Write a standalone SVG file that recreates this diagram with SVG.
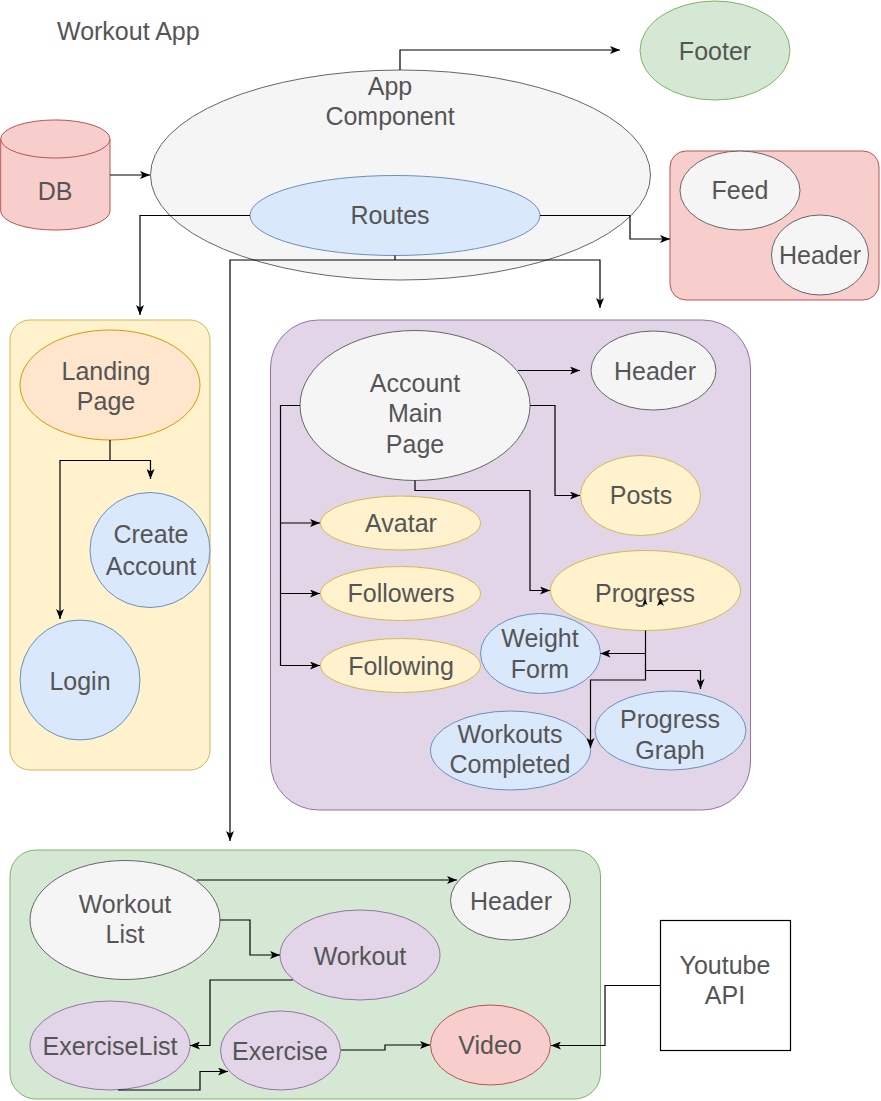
<svg xmlns="http://www.w3.org/2000/svg" width="881" height="1101" viewBox="0 0 881 1101">
<style>
text{font-family:"Liberation Sans",Arial,Helvetica,sans-serif;font-size:25px;fill:#555;text-anchor:middle}
.gray{fill:#f5f5f5;stroke:#666;stroke-width:1}
.blue{fill:#dae8fc;stroke:#6c8ebf;stroke-width:1}
.yel{fill:#fff2cc;stroke:#d6b656;stroke-width:1}
.org{fill:#ffe6cc;stroke:#d79b00;stroke-width:1}
.red{fill:#f8cecc;stroke:#b85450;stroke-width:1}
.grn{fill:#d5e8d4;stroke:#82b366;stroke-width:1}
.pur{fill:#e1d5e7;stroke:#9673a6;stroke-width:1}
.edge{fill:none;stroke:#000;stroke-width:1.2;marker-end:url(#arr)}
.line{fill:none;stroke:#000;stroke-width:1.2}
</style>
<defs>
<marker id="arr" viewBox="0 0 10 8" refX="10" refY="4" markerWidth="10" markerHeight="8" markerUnits="userSpaceOnUse" orient="auto">
<path d="M0,0 L10,4 L0,8 L2.5,4 z" fill="#000"/>
</marker>
</defs>
<rect width="881" height="1101" fill="#fff"/>
<text x="57" y="40" style="text-anchor:start">Workout App</text>

<g id="containers">
<rect id="feedBox" x="670" y="151" width="209" height="149" rx="16" class="red"/>
<rect id="landingBox" x="10" y="320" width="200" height="450" rx="20" class="yel"/>
<rect id="accountBox" x="270.5" y="320" width="480" height="490" rx="48" class="pur"/>
<rect id="workoutBox" x="10" y="850" width="590.5" height="249" rx="26" class="grn"/>
</g>

<g id="app">
<ellipse cx="400.5" cy="175" rx="250" ry="105" class="gray"/>
<text x="390" y="95">App</text>
<text x="390" y="125">Component</text>
</g>
<g id="routes">
<ellipse cx="395" cy="215.5" rx="145" ry="40" class="blue"/>
<text x="390" y="224">Routes</text>
</g>
<g id="footer">
<ellipse cx="715" cy="50.5" rx="75" ry="49.5" class="grn"/>
<text x="715" y="60">Footer</text>
</g>
<g id="db">
<path d="M0.7,139 A54.5,19 0 0 1 110,139 L110,211 A54.5,19 0 0 1 0.7,211 Z" class="red"/>
<path d="M0.7,139 A54.5,19 0 0 0 110,139" class="red" fill="none"/>
<text x="55" y="200">DB</text>
</g>
<g id="feed">
<ellipse cx="740" cy="190.5" rx="60" ry="39.5" class="gray"/>
<text x="740" y="199">Feed</text>
</g>
<g id="feedHeader">
<ellipse cx="820" cy="255" rx="48.5" ry="40" class="gray"/>
<text x="820" y="264">Header</text>
</g>

<g id="landing">
<ellipse cx="110" cy="385" rx="90" ry="55" class="org"/>
<text x="106" y="380">Landing</text>
<text x="106" y="410">Page</text>
</g>
<g id="createAccount">
<ellipse cx="150" cy="550" rx="60" ry="57.5" class="blue"/>
<text x="151" y="543">Create</text>
<text x="151" y="575">Account</text>
</g>
<g id="login">
<circle cx="80" cy="680" r="60" class="blue"/>
<text x="80" y="690">Login</text>
</g>

<g id="accountMain">
<ellipse cx="415" cy="405.5" rx="115" ry="75" class="gray"/>
<text x="415" y="392">Account</text>
<text x="415" y="422">Main</text>
<text x="415" y="453">Page</text>
</g>
<g id="accountHeader">
<ellipse cx="653.5" cy="370.5" rx="62.5" ry="39.5" class="gray"/>
<text x="655" y="380">Header</text>
</g>
<g id="posts">
<ellipse cx="640.5" cy="495.5" rx="60" ry="40" class="yel"/>
<text x="641" y="504">Posts</text>
</g>
<g id="avatar">
<ellipse cx="400.5" cy="523" rx="80" ry="27" class="yel"/>
<text x="401" y="532">Avatar</text>
</g>
<g id="followers">
<ellipse cx="400.5" cy="593.5" rx="80" ry="27" class="yel"/>
<text x="401" y="602">Followers</text>
</g>
<g id="following">
<ellipse cx="400.5" cy="665.5" rx="80" ry="27" class="yel"/>
<text x="401" y="675">Following</text>
</g>
<g id="progress">
<ellipse cx="645.5" cy="590.5" rx="95" ry="40" class="yel"/>
<text x="645" y="602">Progress</text>
</g>
<g id="weightForm">
<ellipse cx="540.5" cy="653.5" rx="60" ry="40" class="blue"/>
<text x="540" y="647">Weight</text>
<text x="540" y="678">Form</text>
</g>
<g id="progressGraph">
<ellipse cx="670.5" cy="730.5" rx="75.5" ry="39.5" class="blue"/>
<text x="670" y="728">Progress</text>
<text x="670" y="759">Graph</text>
</g>
<g id="workoutsCompleted">
<ellipse cx="510.5" cy="750.5" rx="80" ry="39.5" class="blue"/>
<text x="510" y="743">Workouts</text>
<text x="510" y="773">Completed</text>
</g>

<g id="workoutList">
<ellipse cx="125" cy="920" rx="95" ry="59.5" class="gray"/>
<text x="125" y="913">Workout</text>
<text x="125" y="943">List</text>
</g>
<g id="workoutHeader">
<ellipse cx="510.5" cy="900.5" rx="60" ry="39.5" class="gray"/>
<text x="511" y="910">Header</text>
</g>
<g id="workout">
<ellipse cx="360" cy="955" rx="80" ry="45" class="pur"/>
<text x="360" y="965">Workout</text>
</g>
<g id="exerciseList">
<ellipse cx="110" cy="1045.5" rx="80" ry="44.5" class="pur"/>
<text x="110" y="1055">ExerciseList</text>
</g>
<g id="exercise">
<ellipse cx="280.5" cy="1050.5" rx="60" ry="39.5" class="pur"/>
<text x="280" y="1060">Exercise</text>
</g>
<g id="video">
<ellipse cx="490.5" cy="1045" rx="60" ry="40" class="red"/>
<text x="490" y="1054">Video</text>
</g>
<g id="youtube">
<rect x="660.5" y="920.5" width="130" height="130" fill="#fff" stroke="#000" stroke-width="1.2"/>
<text x="725" y="974">Youtube</text>
<text x="725" y="1004">API</text>
</g>

<g id="connectors">
<path d="M400,70 V50 H620" class="edge"/>
<path d="M110,175 H150" class="edge"/>
<path d="M250,215.5 H140 V315" class="edge"/>
<path d="M540,215.5 H630 V239 H670" class="edge"/>
<path d="M395,255.5 V260" class="line"/>
<path d="M395,260 H230 V841" class="edge"/>
<path d="M395,260 H600 V308" class="edge"/>
<path d="M110,440 V460.5 H60 V619" class="edge"/>
<path d="M110,460.5 H150.5 V479" class="edge"/>
<path d="M518,370.5 H580" class="edge"/>
<path d="M530,405.5 H555 V495.5 H580" class="edge"/>
<path d="M300,405.5 H280.5 V523 H320" class="edge"/>
<path d="M280.5,523 V593.5 H320" class="edge"/>
<path d="M280.5,593.5 V665.5 H320" class="edge"/>
<path d="M415,480.5 V490.5 H530 V590.5 H550" class="edge"/>
<path d="M645.5,630.5 V653.5 H600.5" class="edge"/>
<path d="M645.5,653.5 V670.5 H700.5 V689" class="edge"/>
<path d="M645.5,670.5 V680 H590.5 V748" class="edge"/>
<polygon points="645,599 647.5,605 645,603.5 642.5,605" fill="#000"/>
<polygon points="660.5,598 664,606 660.5,604 657,606" fill="#000"/>
<path d="M197,880 H457" class="edge"/>
<path d="M220,920 H250 V955 H280" class="edge"/>
<path d="M293,980 H210 V1045.5 H190" class="edge"/>
<path d="M118,1090 H200 V1071.5 H228" class="edge"/>
<path d="M341,1050 H385 V1045 H430" class="edge"/>
<path d="M660.5,985.5 H605 V1045.5 H551" class="edge"/>
</g>
</svg>
